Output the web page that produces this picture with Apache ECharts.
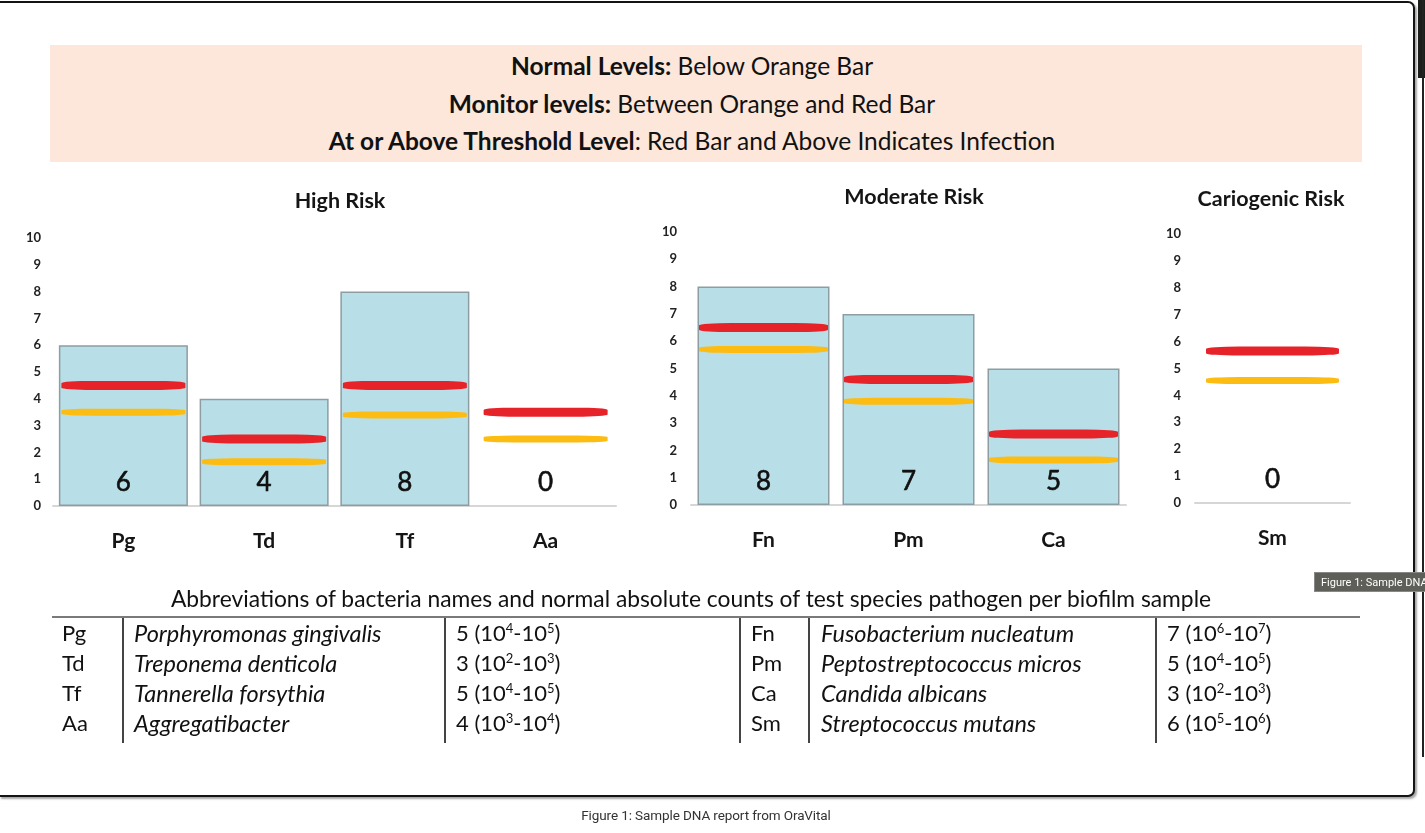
<!DOCTYPE html>
<html>
<head>
<meta charset="utf-8">
<script src="https://cdn.jsdelivr.net/npm/echarts@6/dist/echarts.min.js"></script>
<style>
  html, body { margin: 0; padding: 0; width: 1425px; height: 833px; background: #fff; overflow: hidden; font-family: Lato, "Noto Sans", sans-serif; }
  #frame { position: absolute; left: -1px; top: 1px; width: 1413px; height: 792px; border: 2px solid #141414; border-left: 1px solid #ddd; border-radius: 0 7px 7px 0; box-shadow: 2px 2px 2px rgba(0,0,0,0.35); background: #fff; }
  #edge { position: absolute; left: 1422px; top: 0; width: 2px; height: 757px; background: #222; }
  #edgeTop { position: absolute; left: 1418px; top: 0; width: 7px; height: 78px; background: #1b1f1b; }
  #chart { position: absolute; left: 0; top: 0; width: 1425px; height: 833px; }
  #banner { position: absolute; left: 50px; top: 45px; width: 1312px; height: 117px; background: #fde7da; }
  #banner .txt { position: absolute; left: 0; top: 2px; width: 1284px; text-align: center; font-size: 24.5px; line-height: 37.5px; color: #111; }
  #banner b { font-weight: 700; }
  #tbl { position: absolute; left: 0; top: 0; width: 1425px; height: 833px; pointer-events: none; color: #111; }
  .cell { position: absolute; font-size: 22px; line-height: 30px; white-space: nowrap; }
  .it { font-style: italic; font-size: 23.5px; }
  sup { font-size: 13px; vertical-align: 0; position: relative; top: -8px; }
  .vl { position: absolute; top: 617px; width: 1.5px; height: 126px; background: #444; }
  #hr { position: absolute; left: 52px; top: 616px; width: 1308px; height: 2px; background: #7a7a7a; }
  #tblTitle { position: absolute; left: 0; width: 1382px; top: 583px; text-align: center; font-size: 22.8px; line-height: 30px; color: #111; }
  #caption { position: absolute; left: 0; width: 1412px; top: 807px; text-align: center; font-family: Roboto, "Noto Sans", sans-serif; font-size: 13.5px; color: #333; letter-spacing: -0.1px; }
  #tip { position: absolute; left: 1314px; top: 572px; width: 115px; height: 20px; background: #5e5f58; color: #fff; font-family: Roboto, "Noto Sans", sans-serif; font-size: 11px; line-height: 20px; padding-left: 6px; box-sizing: border-box; white-space: nowrap; overflow: hidden; border: 1px solid #888; }
</style>
</head>
<body>
<div id="edgeTop"></div>
<div id="edge"></div>
<div id="frame"></div>
<div id="banner"><div class="txt">
  <div><b>Normal Levels:</b> Below Orange Bar</div>
  <div><b>Monitor levels:</b> Between Orange and Red Bar</div>
  <div><b>At or Above Threshold Level</b>: Red Bar and Above Indicates Infection</div>
</div></div>
<div id="chart"></div>
<div id="tbl"></div>
<div id="caption">Figure 1: Sample DNA report from OraVital</div>
<div id="tip">Figure 1: Sample DNA report from OraVital</div>
<script>
// ---- data ----
const highCats = ['Pg', 'Td', 'Tf', 'Aa'];
const highValues = [6, 4, 8, 0];
const highRed = [4.5, 2.5, 4.5, 3.5];
const highOrange = [3.5, 1.65, 3.4, 2.5];

const modCats = ['Fn', 'Pm', 'Ca'];
const modValues = [8, 7, 5];
const modRed = [6.5, 4.6, 2.6];
const modOrange = [5.7, 3.8, 1.65];

const carCats = ['Sm'];
const carValues = [0];
const carRed = [5.65];
const carOrange = [4.55];

const chartTitles = ['High Risk', 'Moderate Risk', 'Cariogenic Risk'];
const yTicks = [0, 1, 2, 3, 4, 5, 6, 7, 8, 9, 10];

const tableTitle = 'Abbreviations of bacteria names and normal absolute counts of test species pathogen per biofilm sample';
const leftAbbr = ['Pg', 'Td', 'Tf', 'Aa'];
const leftNames = ['Porphyromonas gingivalis', 'Treponema denticola', 'Tannerella forsythia', 'Aggregatibacter'];
const leftCounts = [[5, 4, 5], [3, 2, 3], [5, 4, 5], [4, 3, 4]];
const rightAbbr = ['Fn', 'Pm', 'Ca', 'Sm'];
const rightNames = ['Fusobacterium nucleatum', 'Peptostreptococcus micros', 'Candida albicans', 'Streptococcus mutans'];
const rightCounts = [[7, 6, 7], [5, 4, 5], [3, 2, 3], [6, 5, 6]];

// ---- table (HTML text) ----
const tbl = document.getElementById('tbl');
function cell(x, y, html, cls) {
  const d = document.createElement('div');
  d.className = 'cell' + (cls ? ' ' + cls : '');
  d.style.left = x + 'px';
  d.style.top = (y - 15) + 'px';
  d.innerHTML = html;
  tbl.appendChild(d);
}
function cnt(c) { return c[0] + ' (10<sup>' + c[1] + '</sup>-10<sup>' + c[2] + '</sup>)'; }
const rowY = [633, 663, 693, 723];
rowY.forEach((y, i) => {
  cell(62, y, leftAbbr[i]);
  cell(134, y, leftNames[i], 'it');
  cell(456, y, cnt(leftCounts[i]));
  cell(751, y, rightAbbr[i]);
  cell(821, y, rightNames[i], 'it');
  cell(1167, y, cnt(rightCounts[i]));
});
[122, 444, 739, 808, 1155].forEach(x => {
  const v = document.createElement('div'); v.className = 'vl'; v.style.left = x + 'px'; tbl.appendChild(v);
});
const hr = document.createElement('div'); hr.id = 'hr'; tbl.appendChild(hr);
const tt = document.createElement('div'); tt.id = 'tblTitle'; tt.textContent = tableTitle; tbl.appendChild(tt);

// ---- charts ----
const FONT = 'Lato, "Noto Sans", sans-serif';
const grids = [
  { left: 53, top: 238, width: 563, height: 268 },
  { left: 691, top: 232, width: 435, height: 273 },
  { left: 1195, top: 234, width: 155, height: 269 }
];
const catsList = [highCats, modCats, carCats];
const valsList = [highValues, modValues, carValues];
const redList = [highRed, modRed, carRed];
const orangeList = [highOrange, modOrange, carOrange];
const barWidths = [129, 132, 130];
const lineWidths = [124, 129, 133];
const titlePos = [{ x: 335, y: 185 }, { x: 909, y: 181 }, { x: 1266, y: 183 }];

const option = {
  animation: false,
  title: chartTitles.map((t, i) => ({
    text: t, left: titlePos[i].x, top: titlePos[i].y, textAlign: 'center',
    textStyle: { fontFamily: FONT, fontSize: 21.5, fontWeight: 'bold', color: '#151515' }
  })),
  grid: grids.map(g => Object.assign({ containLabel: false }, g)),
  xAxis: catsList.map((c, i) => ({
    type: 'category', gridIndex: i, data: c,
    axisLine: { show: true, lineStyle: { color: '#d6d6d6', width: 2 } },
    axisTick: { show: false },
    axisLabel: { margin: 25, fontFamily: FONT, fontSize: 21, fontWeight: 'bold', color: '#151515' },
    splitLine: { show: false }
  })),
  yAxis: catsList.map((c, i) => ({
    type: 'value', gridIndex: i, min: yTicks[0], max: yTicks[yTicks.length - 1], interval: 1,
    axisLine: { show: false }, axisTick: { show: false }, splitLine: { show: false },
    axisLabel: { margin: i === 0 ? 12 : 14, fontFamily: FONT, fontSize: 13, fontWeight: 'bold', color: '#222' }
  })),
  series: []
};
catsList.forEach((c, i) => {
  option.series.push({
    type: 'bar', xAxisIndex: i, yAxisIndex: i, barWidth: barWidths[i],
    data: valsList[i].map(v => ({ value: v, itemStyle: { borderWidth: v === 0 ? 0 : 1.5 } })),
    itemStyle: { color: '#b8dfe7', borderColor: '#8d9da2', borderWidth: 1.5 },
    label: { show: true, position: 'insideBottom', distance: 10, fontFamily: FONT, fontSize: 26, color: '#111', formatter: '{c}', textBorderColor: '#111', textBorderWidth: 0.6 },
    z: 2
  });
  option.series.push({
    type: 'scatter', xAxisIndex: i, yAxisIndex: i, data: orangeList[i],
    symbol: 'roundRect', symbolSize: [lineWidths[i], 7],
    itemStyle: { color: '#fcbc12', opacity: 1 }, z: 3, silent: true
  });
  option.series.push({
    type: 'scatter', xAxisIndex: i, yAxisIndex: i, data: redList[i],
    symbol: 'roundRect', symbolSize: [lineWidths[i], 9],
    itemStyle: { color: '#e7232a', opacity: 1 }, z: 4, silent: true
  });
});
const chart = echarts.init(document.getElementById('chart'), null, { renderer: 'canvas' });
chart.setOption(option);
</script>
</body>
</html>
